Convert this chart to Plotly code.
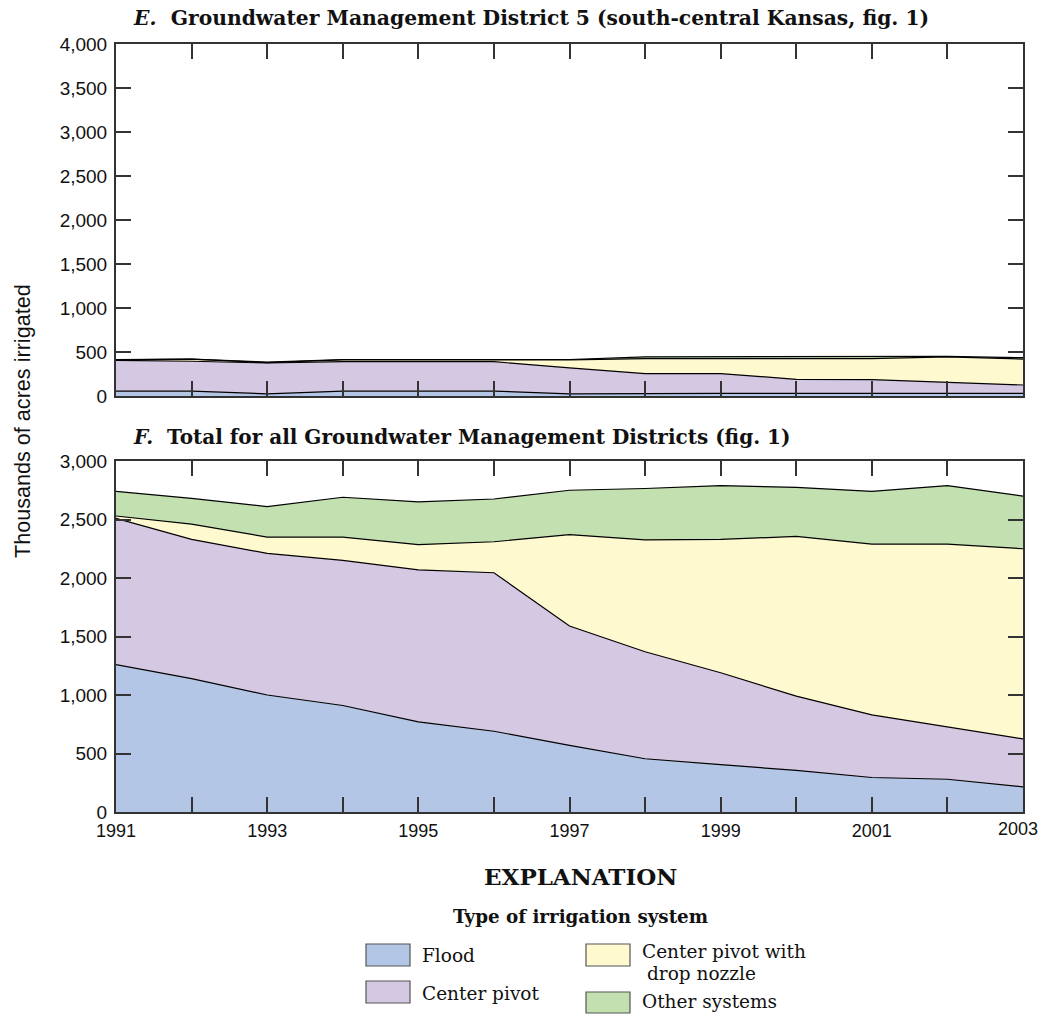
import plotly.graph_objects as go

years = list(range(1991, 2004))
series_names = ["Flood", "Center pivot", "Center pivot with drop nozzle", "Other systems"]
series_colors = ["#b3c6e6", "#d5c8e2", "#fff9d0", "#c3e0b1"]

# Panel E: Groundwater Management District 5 (thousands of acres)
gmd5_flood = [55, 55, 25, 55, 55, 55, 25, 30, 30, 30, 30, 30, 30]
gmd5_pivot = [350, 340, 350, 335, 335, 335, 295, 225, 225, 160, 155, 125, 95]
gmd5_drop = [5, 25, 5, 20, 20, 20, 90, 170, 170, 235, 240, 290, 295]
gmd5_other = [5, 0, 5, 5, 5, 5, 5, 20, 20, 20, 20, 5, 15]

# Panel F: Total for all GMDs (thousands of acres)
tot_flood = [1260, 1140, 1000, 910, 770, 690, 570, 455, 405, 355, 295, 280, 215]
tot_pivot = [1250, 1190, 1210, 1240, 1300, 1355, 1020, 915, 785, 635, 535, 450, 410]
tot_drop = [20, 130, 140, 200, 215, 265, 780, 955, 1140, 1365, 1460, 1560, 1625]
tot_other = [210, 220, 260, 340, 365, 365, 380, 440, 460, 420, 450, 500, 450]

y_ticks_top = [0, 500, 1000, 1500, 2000, 2500, 3000, 3500, 4000]
y_ticks_bot = [0, 500, 1000, 1500, 2000, 2500, 3000]
x_label_years = [1991, 1993, 1995, 1997, 1999, 2001, 2003]

W, H = 1042, 1014
ML, MR, MT, MB = 116, 19, 44, 202
PW, PH = W - ML - MR, H - MT - MB

def px(x):
    return (x - ML) / PW

def py(y):
    return (H - MB - y) / PH

fig = go.Figure()

panels = [
    ("x", "y", [gmd5_flood, gmd5_pivot, gmd5_drop, gmd5_other], "E"),
    ("x2", "y2", [tot_flood, tot_pivot, tot_drop, tot_other], "F"),
]
for xa, ya, data, grp in panels:
    for name, col, vals in zip(series_names, series_colors, data):
        fig.add_trace(go.Scatter(
            x=years, y=vals, name=name, mode="lines",
            stackgroup=grp, fillcolor=col,
            line=dict(color="#000000", width=1.2),
            xaxis=xa, yaxis=ya, showlegend=False,
            hovertemplate="%{x}: %{y}<extra>" + name + "</extra>",
        ))

tick_font = dict(family="Liberation Sans, Arial, sans-serif", size=19, color="#111111")
xtick_font = dict(tick_font, size=18)
axis_common = dict(
    showline=True, linecolor="#333333", linewidth=2, mirror="ticks",
    ticks="inside", ticklen=15, tickwidth=1.5, tickcolor="#333333",
    showgrid=False, zeroline=False, automargin=False,
)

top_dom = [py(396), 1.0]
bot_dom = [0.0, py(461)]
xr = [1991 - 1e-6, 2003 + 1e-6]
last_year = years[-1]

fig.update_layout(
    width=W, height=H,
    margin=dict(l=ML, r=MR, t=MT, b=MB, autoexpand=False),
    paper_bgcolor="white", plot_bgcolor="white",
    showlegend=False,
    xaxis=dict(domain=[0, 1], range=xr, anchor="y",
               tickvals=years, showticklabels=False, tickfont=tick_font, **axis_common),
    yaxis=dict(domain=top_dom, range=[0, 4000], anchor="x",
               tickvals=y_ticks_top, tickformat=",d", ticklabelstandoff=3,
               tickfont=tick_font, **axis_common),
    xaxis2=dict(domain=[0, 1], range=xr, anchor="y2",
                tickvals=years,
                # last label is placed as an annotation so it stays inside the page edge
                ticktext=[str(y) if (y in x_label_years and y != last_year) else "" for y in years],
                ticklabelstandoff=1,
                tickfont=xtick_font, **axis_common),
    yaxis2=dict(domain=bot_dom, range=[0, 3000], anchor="x2",
                tickvals=y_ticks_bot, tickformat=",d", ticklabelstandoff=3,
                tickfont=tick_font, **axis_common),
)

serif = "DejaVu Serif, Liberation Serif, serif"
ann = []
ann.append(dict(text=str(last_year), x=last_year, xref="x2", y=py(829), yref="paper",
                xanchor="right", yanchor="middle", xshift=17, showarrow=False, font=xtick_font))
ann.append(dict(text="<b><i>E.</i>  Groundwater Management District 5 (south-central Kansas, fig. 1)</b>",
                x=px(131), y=py(18), xref="paper", yref="paper", xanchor="left", yanchor="middle",
                showarrow=False, font=dict(family=serif, size=20.3, color="#111111")))
ann.append(dict(text="<b><i>F.</i>  Total for all Groundwater Management Districts (fig. 1)</b>",
                x=px(131), y=py(437), xref="paper", yref="paper", xanchor="left", yanchor="middle",
                showarrow=False, font=dict(family=serif, size=20, color="#111111")))
ann.append(dict(text="Thousands of acres irrigated", textangle=-90,
                x=px(22), y=py(421), xref="paper", yref="paper", xanchor="center", yanchor="middle",
                showarrow=False, font=dict(family="Liberation Sans, Arial, sans-serif", size=21.6, color="#111111")))
ann.append(dict(text="<b>EXPLANATION</b>", x=px(580), y=py(876), xref="paper", yref="paper",
                xanchor="center", yanchor="middle", showarrow=False,
                font=dict(family=serif, size=23, color="#111111")))
ann.append(dict(text="<b>Type of irrigation system</b>", x=px(580), y=py(916), xref="paper", yref="paper",
                xanchor="center", yanchor="middle", showarrow=False,
                font=dict(family=serif, size=18.3, color="#111111")))

shapes = []
legend_boxes = [
    (366, 944, 410, 966),
    (366, 981, 410, 1003),
    (586, 944, 630, 966),
    (586, 992, 630, 1013),
]
legend_text = [
    [("Flood", 420, 955)],
    [("Center pivot", 420, 993)],
    [("Center pivot with", 640, 951), ("drop nozzle", 645, 973)],
    [("Other systems", 640, 1001)],
]
for (x0, y0, x1, y1), col, texts in zip(legend_boxes, series_colors, legend_text):
    shapes.append(dict(type="rect", xref="paper", yref="paper",
                       x0=px(x0), x1=px(x1), y0=py(y1), y1=py(y0),
                       fillcolor=col, line=dict(color="#555555", width=1.2)))
    for label, tx, ty in texts:
        ann.append(dict(text=label, x=px(tx), y=py(ty), xref="paper", yref="paper",
                        xanchor="left", yanchor="middle", align="left", showarrow=False,
                        font=dict(family=serif, size=18.5, color="#111111")))

fig.update_layout(annotations=ann, shapes=shapes)
fig.write_html("out.html")
